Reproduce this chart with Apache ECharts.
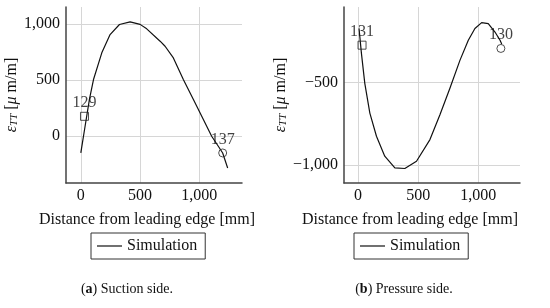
<!DOCTYPE html>
<html>
<head>
<meta charset="utf-8">
<script src="https://cdn.jsdelivr.net/npm/echarts@6/dist/echarts.min.js"></script>
<style>
  html, body { margin: 0; padding: 0; background: #fff; }
  #main { width: 550px; height: 308px; }
</style>
</head>
<body>
<div id="main"></div>
<script>
// suction side (a)
var suctionDist = [0, 36, 73, 107, 177, 247, 326, 416, 500, 556, 669, 711, 781, 865, 950, 1034, 1104, 1160, 1197, 1239];
var suctionStrain = [-152, 86, 328, 503, 741, 904, 994, 1018, 995, 955, 845, 800, 696, 503, 324, 146, -3, -92, -152, -286];
var suctionGauges = [[31, 175, '129', 'rect'], [1197, -152, '137', 'circle']];

// pressure side (b)
var pressureDist = [8, 28, 56, 98, 153, 222, 306, 389, 486, 598, 681, 764, 848, 917, 972, 1028, 1083, 1139, 1181, 1195];
var pressureStrain = [-170, -322, -504, -685, -826, -947, -1018, -1022, -978, -846, -695, -534, -363, -242, -171, -135, -141, -192, -242, -265];
var pressureGauges = [[33, -272, '131', 'rect'], [1188, -292, '130', 'circle']];

var xTitle = 'Distance from leading edge [mm]';
var seriesName = 'Simulation';

var font = 'Liberation Serif';

function zip(xs, ys) {
    var out = [];
    for (var i = 0; i < xs.length; i++) out.push([xs[i], ys[i]]);
    return out;
}

function fmt(v) {
    var s = Math.abs(v).toLocaleString('en-US');
    return v < 0 ? '\u2212' + s : s;
}

function xAx(idx, min, max) {
    return {
        type: 'value', gridIndex: idx, min: min, max: max,
        minInterval: 500, maxInterval: 500,
        axisLine: { show: true, onZero: false, lineStyle: { color: '#444', width: 1.5 } },
        axisTick: { show: false },
        axisLabel: { color: '#111', fontFamily: font, fontSize: 16, margin: 5,
            showMinLabel: false, showMaxLabel: false, formatter: fmt },
        splitLine: { show: true, showMinLine: false, showMaxLine: false,
            lineStyle: { color: '#d6d6d6', width: 1 } }
    };
}

function yAx(idx, min, max, gap) {
    return {
        type: 'value', gridIndex: idx, min: min, max: max,
        minInterval: 500, maxInterval: 500,
        name: '{e|\u03b5}{s|TT} [{e|\u03bc} m/m]',
        nameLocation: 'middle', nameGap: gap,
        nameTextStyle: {
            color: '#111', fontFamily: font, fontSize: 16,
            rich: {
                e: { fontFamily: font, fontSize: 16, fontStyle: 'italic', color: '#111' },
                s: { fontFamily: font, fontSize: 11, fontStyle: 'italic', color: '#111', padding: [6, 0, 0, 0] }
            }
        },
        axisLine: { show: true, onZero: false, lineStyle: { color: '#444', width: 1.5 } },
        axisTick: { show: false },
        axisLabel: { color: '#111', fontFamily: font, fontSize: 16, margin: 6,
            showMinLabel: false, showMaxLabel: false, formatter: fmt },
        splitLine: { show: true, showMinLine: false, showMaxLine: false,
            lineStyle: { color: '#d6d6d6', width: 1 } }
    };
}

function gaugeSeries(idx, g) {
    return {
        type: 'scatter', xAxisIndex: idx, yAxisIndex: idx,
        symbol: g[3], symbolSize: 8,
        itemStyle: { color: 'rgba(255,255,255,0)', borderColor: '#222', borderWidth: 1 },
        label: { show: true, position: 'top', distance: 1, formatter: g[2],
            color: '#111', fontFamily: font, fontSize: 16 },
        data: [[g[0], g[1]]],
        z: 3
    };
}

function legendAt(left) {
    return {
        left: left, top: 233, data: [seriesName],
        orient: 'horizontal',
        icon: 'rect',
        itemWidth: 25, itemHeight: 1.2,
        padding: [5, 8, 5, 6],
        borderColor: '#333', borderWidth: 1, borderRadius: 0,
        selectedMode: false,
        textStyle: { color: '#111', fontFamily: font, fontSize: 16 }
    };
}

var myChart = echarts.init(document.getElementById('main'), null, { renderer: 'canvas' });

var option = {
    animation: false,
    backgroundColor: '#fff',
    grid: [
        { left: 66, top: 7, width: 176, height: 176 },
        { left: 344, top: 7, width: 176, height: 176 }
    ],
    xAxis: [xAx(0, -125, 1360), xAx(1, -117, 1347)],
    yAxis: [yAx(0, -420, 1150, 46), yAx(1, -1110, -40, 49)],
    legend: [legendAt(91), legendAt(354)],
    series: [
        {
            name: seriesName, type: 'line', xAxisIndex: 0, yAxisIndex: 0,
            symbol: 'none', smooth: false,
            lineStyle: { color: '#111', width: 1.2 }, itemStyle: { color: '#111' },
            data: zip(suctionDist, suctionStrain)
        },
        {
            name: seriesName, type: 'line', xAxisIndex: 1, yAxisIndex: 1,
            symbol: 'none', smooth: false,
            lineStyle: { color: '#111', width: 1.2 }, itemStyle: { color: '#111' },
            data: zip(pressureDist, pressureStrain)
        },
        gaugeSeries(0, suctionGauges[0]),
        gaugeSeries(0, suctionGauges[1]),
        gaugeSeries(1, pressureGauges[0]),
        gaugeSeries(1, pressureGauges[1])
    ],
    graphic: [
        { type: 'text', x: 147, y: 220, style: { text: xTitle, textAlign: 'center', textVerticalAlign: 'middle',
            fill: '#111', font: '16px "Liberation Serif"' } },
        { type: 'text', x: 410, y: 220, style: { text: xTitle, textAlign: 'center', textVerticalAlign: 'middle',
            fill: '#111', font: '16px "Liberation Serif"' } },
        { type: 'text', x: 127, y: 289, style: { text: '({b|a}) Suction side.', textAlign: 'center', textVerticalAlign: 'middle',
            fill: '#111', font: '14px "Liberation Serif"',
            rich: { b: { fontWeight: 'bold', fontSize: 14, fontFamily: font, fill: '#111' } } } },
        { type: 'text', x: 404, y: 289, style: { text: '({b|b}) Pressure side.', textAlign: 'center', textVerticalAlign: 'middle',
            fill: '#111', font: '14px "Liberation Serif"',
            rich: { b: { fontWeight: 'bold', fontSize: 14, fontFamily: font, fill: '#111' } } } }
    ]
};

myChart.setOption(option);
</script>
</body>
</html>
